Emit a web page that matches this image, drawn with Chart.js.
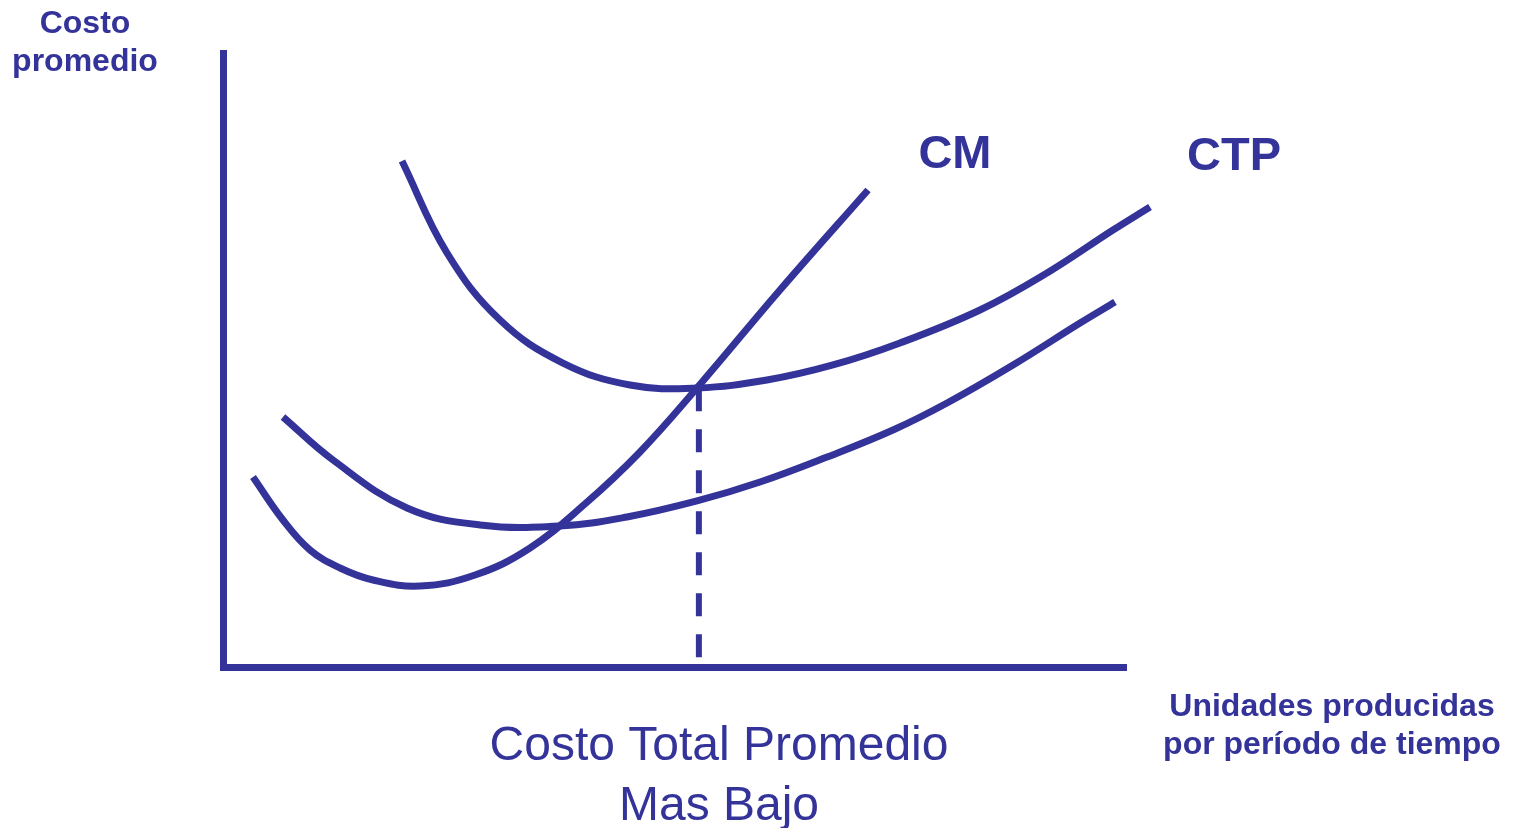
<!DOCTYPE html>
<html>
<head>
<meta charset="utf-8">
<script src="https://cdn.jsdelivr.net/npm/chart.js@4/dist/chart.umd.min.js"></script>
<style>
  html, body { margin: 0; padding: 0; background: #fff; }
  #wrap { width: 1513px; height: 828px; position: relative; }
</style>
</head>
<body>
<div id="wrap"><canvas id="costChart"></canvas></div>
<script>
// --- Data (units: 0-100 on both axes) ---
const cmX  = [3.32, 6.64, 9.63, 12.96, 16.61, 21.82, 27.91, 34.00, 40.09, 46.18, 52.49, 61.68, 71.43];
const cmY  = [30.94, 23.94, 19.06, 16.12, 14.17, 13.19, 14.98, 19.38, 26.55, 35.02, 45.44, 61.40, 77.69];

const ctpX = [19.82, 24.81, 30.68, 37.65, 45.07, 52.49, 60.24, 67.55, 74.97, 83.83, 91.25, 98.56, 102.66];
const ctpY = [82.41, 67.43, 56.51, 49.51, 45.93, 45.44, 46.74, 49.19, 52.77, 58.14, 64.17, 71.17, 74.92];

const lowX = [6.64, 12.18, 20.38, 28.46, 37.32, 44.74, 52.49, 59.47, 66.89, 74.20, 80.18, 87.49, 94.91, 98.78];
const lowY = [40.72, 33.71, 25.90, 23.13, 22.96, 24.43, 27.04, 30.13, 34.20, 38.60, 43.00, 49.19, 56.03, 59.45];

// vertical guide at the minimum of CTP
const minX = 52.7;
const minY = 45.4;

const curveLabels = ['CM', 'CTP'];
const labelAt = [[81.06, 81.27], [111.96, 80.94]];

const BLUE = '#333399';

function toPoints(xs, ys) {
    return xs.map((x, i) => ({ x: x, y: ys[i] }));
}

function curve(label, xs, ys) {
    return {
        label: label,
        data: toPoints(xs, ys),
        borderColor: BLUE,
        borderWidth: 7,
        borderCapStyle: 'butt',
        pointRadius: 0,
        tension: 0.4,
        clip: false
    };
}

// --- Text plugin ---
const textPlugin = {
    id: 'texts',
    afterDraw(chart) {
        const ctx = chart.ctx;
        const xs = chart.scales.x, ys = chart.scales.y;
        ctx.save();
        ctx.fillStyle = BLUE;
        ctx.textAlign = 'center';
        ctx.textBaseline = 'alphabetic';

        ctx.font = 'bold 47px "Liberation Sans", Arial, sans-serif';
        curveLabels.forEach((t, i) => {
            ctx.fillText(t, xs.getPixelForValue(labelAt[i][0]), ys.getPixelForValue(labelAt[i][1]));
        });

        ctx.font = 'bold 32px "Liberation Sans", Arial, sans-serif';
        ctx.fillText('Costo', 85, 33);
        ctx.fillText('promedio', 85, 71);
        ctx.fillText('Unidades producidas', 1332, 716);
        ctx.fillText('por período de tiempo', 1332, 754);

        ctx.font = '48px "Liberation Sans", Arial, sans-serif';
        ctx.fillText('Costo Total Promedio', 719, 760);
        ctx.fillText('Mas Bajo', 719, 820);
        ctx.restore();
    }
};

new Chart(document.getElementById('costChart'), {
    type: 'line',
    data: {
        datasets: [
            curve('CM', cmX, cmY),
            curve('CTP', ctpX, ctpY),
            curve('CTP2', lowX, lowY),
            {
                label: 'min',
                data: [{ x: minX, y: minY }, { x: minX, y: 0 }],
                borderColor: BLUE,
                borderWidth: 6,
                borderDash: [23, 18],
                borderCapStyle: 'butt',
                pointRadius: 0,
                clip: false
            }
        ]
    },
    options: {
        responsive: true,
        maintainAspectRatio: false,
        animation: false,
        layout: { padding: { left: 223, right: 387, top: 53, bottom: 161 } },
        plugins: { legend: { display: false }, tooltip: { enabled: false } },
        scales: {
            x: {
                type: 'linear', min: 0, max: 100,
                grid: { display: false, drawTicks: false },
                ticks: { display: false },
                border: { display: true, color: BLUE, width: 7 }
            },
            y: {
                type: 'linear', min: 0, max: 100,
                grid: { display: false, drawTicks: false },
                ticks: { display: false },
                border: { display: true, color: BLUE, width: 7 }
            }
        }
    },
    plugins: [textPlugin]
});
</script>
</body>
</html>
